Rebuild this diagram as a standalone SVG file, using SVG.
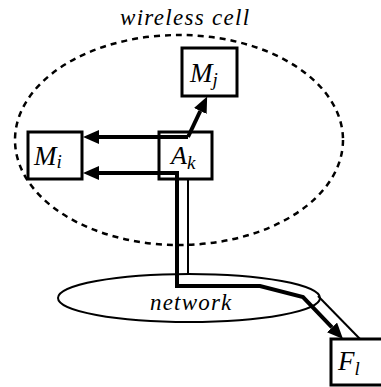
<svg xmlns="http://www.w3.org/2000/svg" width="381" height="387" viewBox="0 0 381 387">
  <style>
    .box { fill: #fff; stroke: #000; stroke-width: 3; }
    .thick { fill: none; stroke: #000; stroke-width: 4; stroke-linejoin: miter; stroke-miterlimit: 10; }
    .thin { fill: none; stroke: #000; stroke-width: 2; }
  </style>
  <defs>
    <marker id="head" markerUnits="userSpaceOnUse" markerWidth="16" markerHeight="14" refX="0" refY="7" orient="auto-start-reverse" viewBox="0 0 16 14">
      <path d="M0,0 L16,7 L0,14 Z" fill="#000"/>
    </marker>
  </defs>

  <g font-family="Liberation Serif, DejaVu Serif, serif" font-style="italic" fill="#000">
    <!-- wireless cell boundary -->
    <g id="cell">
      <ellipse cx="179" cy="140" rx="164" ry="105" fill="none" stroke="#000" stroke-width="2.5" stroke-dasharray="6 5"/>
      <text x="120" y="25" font-size="23" letter-spacing="1.3">wireless cell</text>
    </g>

    <!-- network cloud -->
    <g id="network">
      <ellipse cx="189" cy="298" rx="131" ry="24" fill="none" stroke="#000" stroke-width="2"/>
      <text x="150" y="310" font-size="23" letter-spacing="1.2">network</text>
    </g>

    <g id="Mj">
      <rect class="box" x="182" y="48" width="55" height="48"/>
      <text x="190" y="82" font-size="27">M<tspan font-size="19" dy="4">j</tspan></text>
    </g>

    <g id="Mi">
      <rect class="box" x="28" y="132" width="54" height="47"/>
      <text x="34" y="165" font-size="27">M<tspan font-size="19" dy="3">i</tspan></text>
    </g>

    <g id="Ak">
      <rect class="box" x="159" y="132" width="53" height="47"/>
      <text x="171" y="164" font-size="26">A<tspan font-size="19" dy="5">k</tspan></text>
    </g>

    <g id="Fl">
      <rect class="box" x="331" y="339" width="54" height="46"/>
      <text x="338" y="370" font-size="27">F<tspan font-size="19" dy="5">l</tspan></text>
    </g>
  </g>

  <!-- connectors -->
  <g id="connectors">
    <path class="thick" d="M188,137 L99,137" marker-end="url(#head)"/>
    <path class="thick" d="M188,137 L200.3,111" marker-end="url(#head)"/>
    <path class="thick" d="M99,173 L177,173 L177,286 L260,286 L303,297 L332,327.4" marker-start="url(#head)" marker-end="url(#head)"/>
    <path class="thin" d="M188,179 L188,274"/>
    <path class="thin" d="M318,296 L360,339"/>
  </g>
</svg>
